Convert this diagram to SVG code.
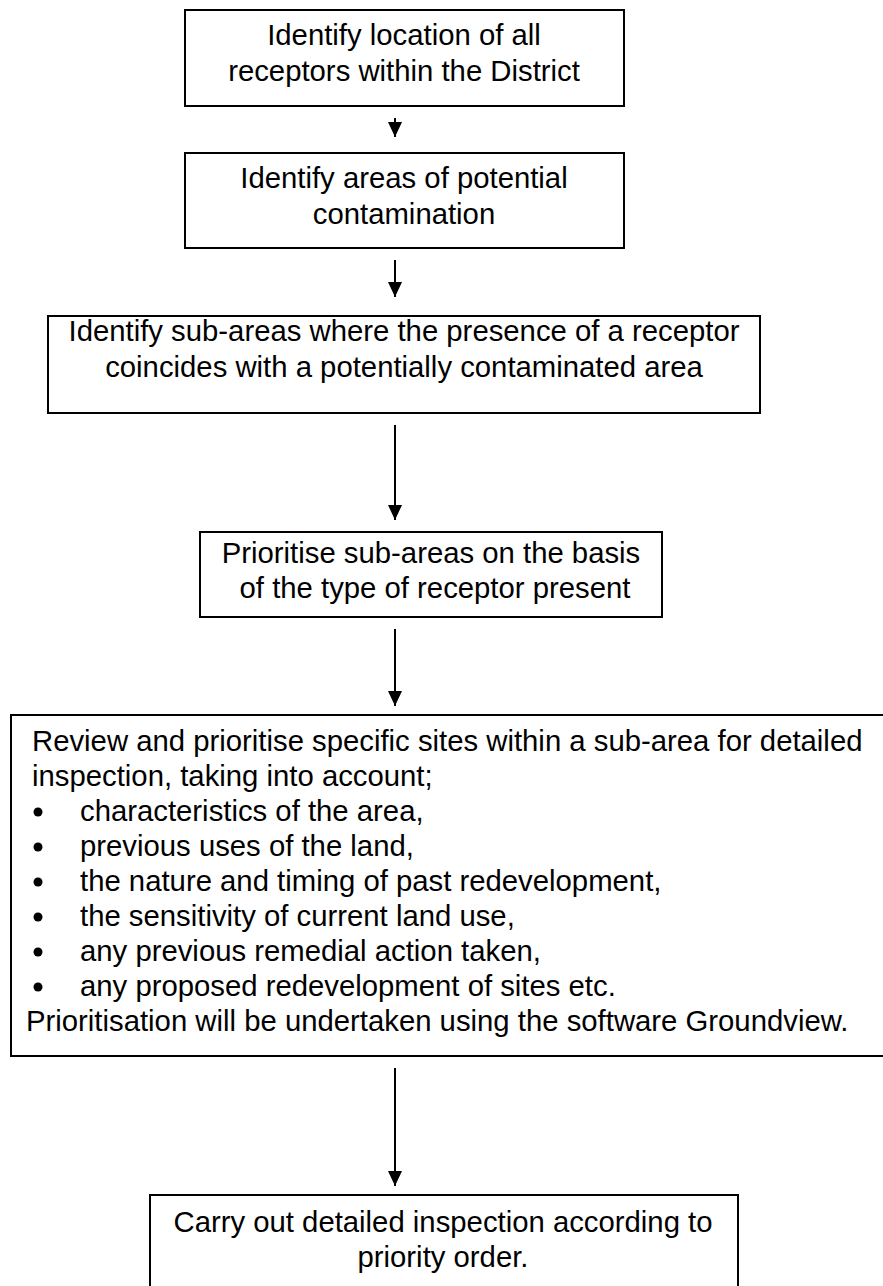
<svg xmlns="http://www.w3.org/2000/svg" width="883" height="1286" viewBox="0 0 883 1286">
<defs>
<style>
.box{fill:#fff;stroke:#000;stroke-width:2}
.t{font-family:"Liberation Sans",Arial,sans-serif;font-size:29.3px;fill:#000}
.c{text-anchor:middle}
.ln{stroke:#000;stroke-width:2;fill:none}
.dot{fill:#000}
</style>
<marker id="ah" viewBox="0 0 15 14" refX="15" refY="7" markerWidth="15" markerHeight="14" markerUnits="userSpaceOnUse" orient="auto">
<path d="M0,0 L15,7 L0,14 Z" fill="#000"/>
</marker>
</defs>
<g id="n1">
<rect class="box" x="185" y="10" width="439" height="96"/>
<text class="t c" x="404" y="45">Identify location of all</text>
<text class="t c" x="404" y="81">receptors within the District</text>
</g>
<g id="n2">
<rect class="box" x="185" y="153" width="439" height="95"/>
<text class="t c" x="404" y="188">Identify areas of potential</text>
<text class="t c" x="404" y="224">contamination</text>
</g>
<g id="n3">
<rect class="box" x="48" y="316" width="712" height="97"/>
<text class="t c" x="404" y="341">Identify sub-areas where the presence of a receptor</text>
<text class="t c" x="404" y="377">coincides with a potentially contaminated area</text>
</g>
<g id="n4">
<rect class="box" x="200" y="532" width="462" height="85"/>
<text class="t c" x="431" y="563">Prioritise sub-areas on the basis</text>
<text class="t c" x="435" y="598">of the type of receptor present</text>
</g>
<g id="n5">
<rect class="box" x="11" y="715" width="890" height="341"/>
<text class="t" x="32" y="751">Review and prioritise specific sites within a sub-area for detailed</text>
<text class="t" x="32" y="786">inspection, taking into account;</text>
<circle class="dot" cx="38" cy="812" r="4.5"/>
<circle class="dot" cx="38" cy="847" r="4.5"/>
<circle class="dot" cx="38" cy="882" r="4.5"/>
<circle class="dot" cx="38" cy="917" r="4.5"/>
<circle class="dot" cx="38" cy="952" r="4.5"/>
<circle class="dot" cx="38" cy="987" r="4.5"/>
<text class="t" x="80" y="821">characteristics of the area,</text>
<text class="t" x="80" y="856">previous uses of the land,</text>
<text class="t" x="80" y="891">the nature and timing of past redevelopment,</text>
<text class="t" x="80" y="926">the sensitivity of current land use,</text>
<text class="t" x="80" y="961">any previous remedial action taken,</text>
<text class="t" x="80" y="996">any proposed redevelopment of sites etc.</text>
<text class="t" x="26" y="1031">Prioritisation will be undertaken using the software Groundview.</text>
</g>
<g id="n6">
<rect class="box" x="150" y="1195" width="588" height="110"/>
<text class="t c" x="443" y="1232">Carry out detailed inspection according to</text>
<text class="t c" x="443" y="1267">priority order.</text>
</g>
<g id="connectors">
<line class="ln" x1="395" y1="118" x2="395" y2="137" marker-end="url(#ah)"/>
<line class="ln" x1="395" y1="260" x2="395" y2="297" marker-end="url(#ah)"/>
<line class="ln" x1="395" y1="425" x2="395" y2="520" marker-end="url(#ah)"/>
<line class="ln" x1="395" y1="629" x2="395" y2="706" marker-end="url(#ah)"/>
<line class="ln" x1="395" y1="1068" x2="395" y2="1186" marker-end="url(#ah)"/>
</g>
</svg>
